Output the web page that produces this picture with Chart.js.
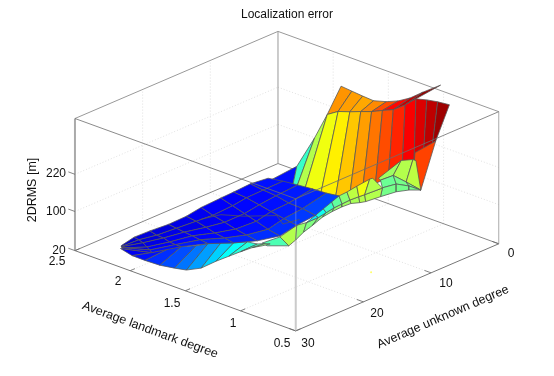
<!DOCTYPE html>
<html>
<head>
<meta charset="utf-8">
<style>body{margin:0;background:#fff}</style>
<script src="https://cdn.jsdelivr.net/npm/chart.js@4"></script>
</head>
<body>
<canvas id="c" width="554" height="376"></canvas>
<script>
const unknownTicks = [0, 10, 20, 30];
const landmarkTicks = [0.5, 1, 1.5, 2, 2.5];
const errorTicks = [20, 100, 220];

// back ridge of the surface
const ridgeUnknown = [5.36, 4.74, 4.12, 3.5, 2.57, 1.81, 1.04, 0.13, 0.44];
const ridgeLandmark = [1.6, 1.54, 1.48, 1.42, 1.36, 1.3, 1.24, 1.18, 1.0];
const ridgeError = [390, 376, 362, 349, 345, 348, 358, 376, 425];
const ridgeColor = [0.73, 0.72, 0.71, 0.74, 0.80, 0.87, 0.93, 0.98];

// steep wall below the ridge
const wallTopUnknown = [7.7, 7.0, 10.9, 9.03, 8.08, 7.0, 6.04, 5.09, 4.14, 3.19, 2.1, 1.15, 0.2, 0.22, 0.44];
const wallTopLandmark = [2.1, 1.9, 1.5, 1.5, 1.46, 1.42, 1.38, 1.34, 1.3, 1.26, 1.22, 1.18, 1.14, 1.04, 0.92];
const wallTopError = [64, 108, 288, 346, 352, 346, 343, 339, 339, 338, 348, 364, 357, 364, 372];
const wallLowUnknown = [8.04, 7.75, 7.82, 7.49, 6.43, 5.26, 4.05, 3.79, 2.55, 1.63, 0.58, 0.46, 0.31, 0.3, 0.51];
const wallLowLandmark = [1.9, 1.9, 1.86, 1.8, 1.74, 1.66, 1.6, 1.5, 1.46, 1.4, 1.34, 1.24, 1.16, 1.08, 1.04];
const wallLowError = [63, 61, 65, 68, 36, 46, 56, 74, 80, 90, 107, 135, 197, 227, 240];
const wallColor = [0.14, 0.43, 0.55, 0.61, 0.64, 0.68, 0.72, 0.76, 0.80, 0.84, 0.88, 0.91, 0.94, 0.97];

// right edge strip
const edgeUnknown = [[0.31, 0.51], [4.66, 4.99]];
const edgeLandmark = [[1.24, 1.04], [1.0, 0.9]];
const edgeError = [[175, 240], [139, 142]];
const edgeColor = [[0.81]];

// yellow-green step
const stepUnknown = [[4.72, 3.0, 1.91, 1.8], [4.43, 3.85, 3.9, 4.99]];
const stepLandmark = [[1.3, 1.2, 1.16, 1.14], [1.3, 1.22, 1.1, 0.9]];
const stepError = [[126, 180, 178, 176], [117, 137, 132, 142]];
const stepColor = [[0.53, 0.55, 0.56]];

// pale green patch in front of the step
const patchUnknown = [[4.43, 3.85, 3.9, 4.99], [7.4, 5.36, 3.47, 4.99], [7.69, 5.36, 3.47, 4.99]];
const patchLandmark = [[1.3, 1.22, 1.1, 0.9], [1.1, 1.1, 1.1, 0.9], [1.1, 1.1, 1.1, 0.9]];
const patchError = [[117, 137, 132, 142], [146, 139, 115, 142], [120, 114, 102, 142]];
const patchColor = [[0.48, 0.49, 0.49], [0.49, 0.49, 0.49]];

// fold running along the front, l = 1.4
const foldLandmark = 1.4;
const foldTopUnknown = [20.27, 17.65, 15.17, 13.72, 12.41, 11.39, 10.08, 8.91, 7.75, 6.29, 4.4, 3.96];
const foldTopError = [68, 65, 74, 71, 78, 88, 94, 97, 98, 102, 107, 106];
const foldMidUnknown = [20.27, 17.65, 15.17, 13.72, 11.97, 10.81, 9.64, 8.48, 7.31, 6, 5.13, 2.51];
const foldMidError = [68, 65, 74, 71, 71, 74, 77, 78, 79, 78, 77, 75];
const foldLowUnknown = [19.54, 16.34, 15.32, 14.16, 12.84, 11.39, 9.93, 8.48, 7.17, 5.86, 4.98, 2.8];
const foldLowError = [58, 39, 45, 54, 60, 68, 71, 72, 71, 65, 62, 59];
const foldUpperColor = [null, null, null, 0.36, 0.39, 0.43, 0.47, 0.51, 0.56, 0.61, 0.55];
const foldLowerColor = [0.45, 0.55, 0.52, 0.5, 0.5, 0.5, 0.52, 0.53, 0.54, 0.55, 0.55];

// skirt under the blue sheet
const skirtLandmark = [2.1, 2.0, 1.9, 1.8, 1.7, 1.62, 1.62, 1.62, 1.62, 1.62, 1.62, 1.62];
const skirtTopUnknown = [29.53, 26.79, 25.95, 25.69, 25.14, 24.69, 22.8, 20.9, 18.87, 17.41, 16.24, 15.51];
const skirtTopError = [54, 38, 49, 60, 67, 75, 65, 54, 44, 31, 25, 20];
const skirtLowUnknown = [29.8, 29.7, 29.45, 28.89, 28.34, 27.89, 25.71, 23.52, 21.63, 19.88, 18.14, 16.68];
const skirtLowError = [56, 49, 46, 41, 40, 40, 31, 32, 31, 30, 28, 23];
const skirtColor = [0.11, 0.14, 0.17, 0.2, 0.24, 0.28, 0.33, 0.38, 0.41, 0.45, 0.5];

// blue sheet
const blueUnknown = [
  [29.02, 27.13, 24.80, 22.03, 19.41, 17.23, 14.32, 12.42, 9.95, 7.33],
  [29.02, 26.73, 24.76, 22.50, 19.59, 17.44, 14.85, 12.81, 10.33, 7.42],
  [29.35, 26.47, 24.72, 22.96, 19.76, 17.65, 15.71, 13.53, 11.05, 7.85],
  [29.21, 26.55, 25.15, 23.76, 20.41, 18.66, 16.25, 14.07, 11.45, 7.95],
  [29.53, 26.43, 25.25, 24.22, 20.58, 19.01, 17.12, 14.79, 12.02, 8.53],
  [29.53, 26.79, 25.69, 24.69, 20.90, 19.37, 17.65, 15.17, 12.41, 8.91]
];
const blueLandmark = [
  [2.14, 2.14, 2.14, 2.14, 2.14, 2.14, 2.14, 2.14, 2.14, 2.14],
  [2.14, 2.12, 2.08, 2.04, 2.04, 2.02, 2.0, 2.0, 2.0, 2.0],
  [2.12, 2.10, 2.02, 1.94, 1.94, 1.90, 1.84, 1.84, 1.84, 1.84],
  [2.12, 2.06, 1.94, 1.82, 1.82, 1.74, 1.70, 1.70, 1.70, 1.70],
  [2.10, 2.04, 1.88, 1.72, 1.72, 1.62, 1.54, 1.54, 1.54, 1.54],
  [2.10, 2.00, 1.80, 1.62, 1.62, 1.50, 1.40, 1.40, 1.40, 1.40]
];
const blueError = [
  [54, 60, 59, 56, 57, 62, 64, 65, 67, 63],
  [52, 54, 55, 59, 56, 57, 63, 67, 68, 69],
  [55, 48, 54, 62, 53, 54, 65, 70, 74, 77],
  [52, 43, 55, 69, 55, 59, 64, 71, 73, 81],
  [56, 38, 55, 72, 54, 59, 66, 74, 78, 89],
  [54, 38, 60, 75, 54, 59, 67, 74, 78, 97]
];
const blueColor = [
  [0.08, 0.09, 0.09, 0.10, 0.11, 0.12, 0.12, 0.13, 0.14],
  [0.08, 0.09, 0.10, 0.10, 0.11, 0.12, 0.13, 0.13, 0.14],
  [0.09, 0.10, 0.11, 0.12, 0.12, 0.12, 0.13, 0.14, 0.15],
  [0.10, 0.12, 0.13, 0.13, 0.13, 0.14, 0.14, 0.15, 0.16],
  [0.12, 0.14, 0.15, 0.16, 0.16, 0.17, 0.17, 0.18, 0.19]
];

// lower sheet showing through the blue one
const sagUnknown = [19.51, 16.6, 13.25, 9.97, 12.32, 9.85];
const sagLandmark = [2.0, 2.0, 2.0, 1.9, 1.7, 1.7];
const sagError = [63, 55, 32, 22, 35, 30];

// the tiny yellow speck on the floor
const speck = [13.97, 0.8, 20];

// view of the box, in canvas pixels
const front = { x: 296, y: 334 };
const unknownDir = { x: 206, y: -89 };
const landmarkDir = { x: -224, y: -82 };
const edgeLine = 'rgba(85,85,85,0.85)';

function errorHeight(z) {
  if (z <= 100) return (z - 20) / 80 * 40;
  return 40 + (z - 100) / 120 * 38;
}

function project(u, l, z) {
  const a = (30 - u) / 30;
  const b = (l - 0.5) / 2;
  return {
    x: front.x + unknownDir.x * a + landmarkDir.x * b,
    y: front.y + unknownDir.y * a + landmarkDir.y * b - errorHeight(z)
  };
}

function jet(t) {
  const c = v => Math.round(255 * Math.max(0, Math.min(1, 1.5 - Math.abs(4 * t - v))));
  return `rgb(${c(3)},${c(2)},${c(1)})`;
}

const datasets = [];

function addLine(a, b, color, width, dash) {
  datasets.push({
    data: [project(a[0], a[1], a[2]), project(b[0], b[1], b[2])],
    showLine: true, pointRadius: 0, borderColor: color, borderWidth: width,
    borderDash: dash || [], fill: false
  });
}

function addSheet(U, L, Z, C) {
  for (let r = 0; r < C.length; r++) {
    for (let c = 0; c < C[r].length; c++) {
      if (C[r][c] === null) continue;
      const corners = [[r, c], [r, c + 1], [r + 1, c + 1], [r + 1, c], [r, c]];
      datasets.push({
        data: corners.map(p => project(U[p[0]][p[1]], L[p[0]][p[1]], Z[p[0]][p[1]])),
        showLine: true, pointRadius: 0, borderColor: edgeLine, borderWidth: 0.9,
        backgroundColor: jet(C[r][c]), fill: 'shape'
      });
    }
  }
}

const zMax = 20 + 2 * 40 + 95 * 120 / 38;
const gridColor = '#d9d9d9';

// grid on floor and back walls
unknownTicks.slice(1, 3).forEach(u => {
  addLine([u, 0.5, 20], [u, 2.5, 20], gridColor, 0.8, [1, 2]);
  addLine([u, 2.5, 20], [u, 2.5, zMax], gridColor, 0.8, [1, 2]);
});
landmarkTicks.slice(1, 4).forEach(l => {
  addLine([0, l, 20], [30, l, 20], gridColor, 0.8, [1, 2]);
  addLine([0, l, 20], [0, l, zMax], gridColor, 0.8, [1, 2]);
});
errorTicks.slice(1).forEach(z => {
  addLine([30, 2.5, z], [0, 2.5, z], gridColor, 0.8, [1, 2]);
  addLine([0, 2.5, z], [0, 0.5, z], gridColor, 0.8, [1, 2]);
});

// box edges behind the surface
addLine([30, 0.5, 20], [30, 2.5, 20], '#777', 1);
addLine([30, 0.5, 20], [0, 0.5, 20], '#777', 1);
addLine([30, 2.5, 20], [0, 2.5, 20], '#888', 1);
addLine([0, 2.5, 20], [0, 0.5, 20], '#888', 1);
addLine([0, 2.5, 20], [0, 2.5, zMax], '#999', 1);
addLine([0, 0.5, 20], [0, 0.5, zMax], '#aaa', 1);
addLine([30, 2.5, 20], [30, 2.5, zMax], '#aaa', 2);
addLine([30, 0.5, 20], [30, 0.5, zMax], '#ccc', 2);
addLine([30, 2.5, zMax], [0, 2.5, zMax], '#999', 1);
addLine([0, 2.5, zMax], [0, 0.5, zMax], '#999', 1);

// tick marks
errorTicks.forEach(z => addLine([30, 2.5, z], [30, 2.56, z], '#666', 0.8));
landmarkTicks.forEach(l => addLine([30, l, 20], [29.3, l, 20], '#666', 0.8));
unknownTicks.forEach(u => addLine([u, 0.5, 20], [u, 0.56, 20], '#666', 0.8));

// surface, back to front
addSheet(
  [ridgeUnknown, wallTopUnknown.slice(3, 12)],
  [ridgeLandmark, wallTopLandmark.slice(3, 12)],
  [ridgeError, wallTopError.slice(3, 12)],
  [ridgeColor]
);
addSheet(
  [wallTopUnknown, wallLowUnknown],
  [wallTopLandmark, wallLowLandmark],
  [wallTopError, wallLowError],
  [wallColor]
);
addSheet(edgeUnknown, edgeLandmark, edgeError, edgeColor);
addSheet(stepUnknown, stepLandmark, stepError, stepColor);
addSheet(patchUnknown, patchLandmark, patchError, patchColor);
const foldL = foldTopUnknown.map(() => foldLandmark);
addSheet([foldMidUnknown, foldLowUnknown], [foldL, foldL], [foldMidError, foldLowError], [foldLowerColor]);
addSheet([foldTopUnknown, foldMidUnknown], [foldL, foldL], [foldTopError, foldMidError], [foldUpperColor]);
addSheet([skirtTopUnknown, skirtLowUnknown], [skirtLandmark, skirtLandmark], [skirtTopError, skirtLowError], [skirtColor]);
addSheet(blueUnknown, blueLandmark, blueError, blueColor);

// see-through curve on the blue sheet
datasets.push({
  data: sagUnknown.map((u, i) => project(u, sagLandmark[i], sagError[i])),
  showLine: true, pointRadius: 0, borderColor: edgeLine, borderWidth: 0.9, fill: false
});

// top edges of the box show over the surface
addLine([30, 2.5, zMax], [30, 0.5, zMax], 'rgba(110,110,110,0.8)', 1);
addLine([30, 0.5, zMax], [0, 0.5, zMax], 'rgba(110,110,110,0.8)', 1);
addLine([30, 0.5, 20], [30, 0.5, zMax], 'rgba(200,200,200,0.25)', 1.5);

datasets.push({
  data: [project(speck[0], speck[1], speck[2])],
  pointRadius: 1, pointBackgroundColor: '#ffff66', pointBorderWidth: 0
});

datasets.forEach((d, i) => { d.order = datasets.length - i; });

const labels = [
  { text: 'Localization error', x: 287, y: 15, size: 12 },
  { text: '20', x: 59, y: 251, size: 12 },
  { text: '100', x: 56, y: 212, size: 12 },
  { text: '220', x: 56, y: 174, size: 12 },
  { text: '2.5', x: 57, y: 262, size: 12 },
  { text: '2', x: 118, y: 282, size: 12 },
  { text: '1.5', x: 172, y: 304, size: 12 },
  { text: '1', x: 233, y: 324, size: 12 },
  { text: '0.5', x: 282, y: 344, size: 12 },
  { text: '30', x: 308, y: 344, size: 12 },
  { text: '20', x: 377, y: 314, size: 12 },
  { text: '10', x: 446, y: 284, size: 12 },
  { text: '0', x: 511, y: 254, size: 12 },
  { text: '2DRMS [m]', x: 33, y: 190, size: 12.5, angle: -90 },
  { text: 'Average landmark degree', x: 150, y: 330, size: 12.5, angle: 20.1 },
  { text: 'Average unknown degree', x: 443, y: 317, size: 12.5, angle: -23.4 }
];

const textPlugin = {
  id: 'axisText',
  afterDraw(chart) {
    const ctx = chart.ctx;
    ctx.save();
    ctx.fillStyle = '#111';
    ctx.textAlign = 'center';
    ctx.textBaseline = 'middle';
    labels.forEach(t => {
      ctx.save();
      ctx.font = t.size + 'px "Liberation Sans", Arial, sans-serif';
      ctx.translate(t.x, t.y);
      if (t.angle) ctx.rotate(t.angle * Math.PI / 180);
      ctx.fillText(t.text, 0, 0);
      ctx.restore();
    });
    ctx.restore();
  }
};

new Chart(document.getElementById('c').getContext('2d'), {
  type: 'scatter',
  data: { datasets: datasets },
  options: {
    responsive: false,
    animation: false,
    layout: { padding: 0 },
    elements: { line: { tension: 0 } },
    plugins: { legend: { display: false }, tooltip: { enabled: false } },
    scales: {
      x: { type: 'linear', min: 0, max: 554, display: false },
      y: { type: 'linear', min: 0, max: 376, reverse: true, display: false }
    }
  },
  plugins: [textPlugin]
});
</script>
</body>
</html>
